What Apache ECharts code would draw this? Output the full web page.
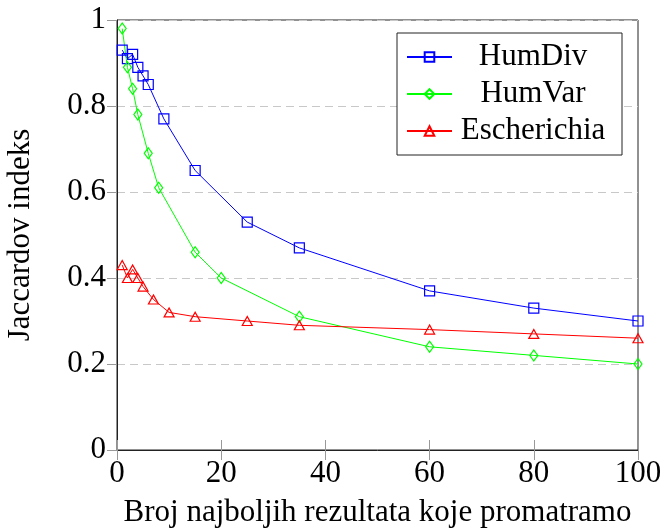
<!DOCTYPE html>
<html lang="hr">
<head>
    <meta charset="UTF-8">
    <title>Jaccardov indeks</title>
    <script src="https://cdn.jsdelivr.net/npm/echarts@6/dist/echarts.min.js"></script>
    <style>
        html, body { margin: 0; padding: 0; background: #fff; }
    </style>
</head>
<body>
<div id="main" style="width: 660px;height:532px;"></div>

<script type="text/javascript">
    // podaci ocitani sa slike
    var humDivX = [1, 2, 3, 4, 5, 6, 9, 15, 25, 35, 60, 80, 100];
    var humDivY = [0.93, 0.91, 0.92, 0.89, 0.87, 0.85, 0.77, 0.65, 0.53, 0.47, 0.37, 0.33, 0.30];

    var humVarX = [1, 2, 3, 4, 6, 8, 15, 20, 35, 60, 80, 100];
    var humVarY = [0.98, 0.89, 0.84, 0.78, 0.69, 0.61, 0.46, 0.40, 0.31, 0.24, 0.22, 0.20];

    var escX = [1, 2, 3, 4, 5, 7, 10, 15, 25, 35, 60, 80, 100];
    var escY = [0.43, 0.40, 0.42, 0.40, 0.38, 0.35, 0.32, 0.31, 0.30, 0.29, 0.28, 0.27, 0.26];

    var xTicks = [0, 20, 40, 60, 80, 100];
    var yTicks = [0, 0.2, 0.4, 0.6, 0.8, 1];

    var serif = 'Liberation Serif';
    var fs = 31;

    function pairs(xs, ys) {
        return xs.map(function (x, i) { return [x, ys[i]]; });
    }

    function serie(name, xs, ys, color, symbol, size) {
        return {
            name: name,
            type: 'line',
            data: pairs(xs, ys),
            symbol: symbol,
            symbolSize: size,
            lineStyle: { color: color, width: 1 },
            itemStyle: { color: 'transparent', borderColor: color, borderWidth: 1.2 },
            emphasis: { disabled: true },
            animation: false
        };
    }

    var myChart = echarts.init(document.getElementById('main'));
    var option = {
        backgroundColor: '#fff',
        textStyle: { fontFamily: serif },
        grid: {
            left: 117, right: 22, top: 20, bottom: 82,
            outerBoundsMode: 'none',
            containLabel: false,
            show: true, borderColor: '#222', borderWidth: 1
        },
        legend: {
            orient: 'vertical',
            left: 397,
            top: 33,
            padding: [8, 13, 8, 9],
            itemWidth: 45,
            itemHeight: 12,
            itemGap: 5,
            backgroundColor: '#fff',
            borderColor: '#222',
            borderWidth: 1,
            formatter: '{a|{name}}',
            textStyle: {
                fontSize: fs,
                fontFamily: serif,
                color: '#000',
                rich: {
                    a: {
                        width: 152, align: 'center', height: 32, lineHeight: 32,
                        fontSize: fs, fontFamily: serif, color: '#000'
                    }
                }
            },
            data: ['HumDiv', 'HumVar', 'Escherichia']
        },
        xAxis: [{
            type: 'value',
            min: 0, max: 100, interval: 20,
            name: 'Broj najboljih rezultata koje promatramo',
            nameLocation: 'middle',
            nameGap: 47,
            nameTextStyle: { fontSize: fs, fontFamily: serif, color: '#000' },
            axisLine: { show: true, lineStyle: { color: '#222' } },
            axisTick: { show: true, inside: true, length: 10, lineStyle: { color: '#999' } },
            axisLabel: {
                fontSize: fs, fontFamily: serif, color: '#000', margin: 8,
                customValues: xTicks
            },
            splitLine: { show: false }
        }, {
            type: 'value',
            position: 'top',
            min: 0, max: 100, interval: 20,
            axisLine: { show: false },
            axisTick: { show: true, inside: true, length: 10, lineStyle: { color: '#999' } },
            axisLabel: { show: false },
            splitLine: { show: false }
        }],
        yAxis: [{
            type: 'value',
            min: 0, max: 1, interval: 0.2,
            name: 'Jaccardov indeks',
            nameLocation: 'middle',
            nameRotate: 90,
            nameGap: 81,
            nameTextStyle: { fontSize: fs, fontFamily: serif, color: '#000' },
            axisLine: { show: true, lineStyle: { color: '#222' } },
            axisTick: { show: false },
            axisLabel: {
                fontSize: fs, fontFamily: serif, color: '#000', margin: 11,
                customValues: yTicks
            },
            splitLine: { show: true, lineStyle: { color: '#c8c8c8', type: [8, 5], width: 1 } }
        }, {
            type: 'value',
            position: 'right',
            min: 0, max: 1, interval: 0.2,
            axisLine: { show: false },
            axisTick: { show: true, inside: true, length: 10, lineStyle: { color: '#999' } },
            axisLabel: { show: false },
            splitLine: { show: false }
        }],
        series: [
            serie('HumDiv', humDivX, humDivY, '#0000ff', 'rect', 10),
            serie('HumVar', humVarX, humVarY, '#00ff00', 'diamond', [8, 11]),
            serie('Escherichia', escX, escY, '#ff0000', 'triangle', [10, 9])
        ]
    };

    myChart.setOption(option);
</script>
</body>
</html>
